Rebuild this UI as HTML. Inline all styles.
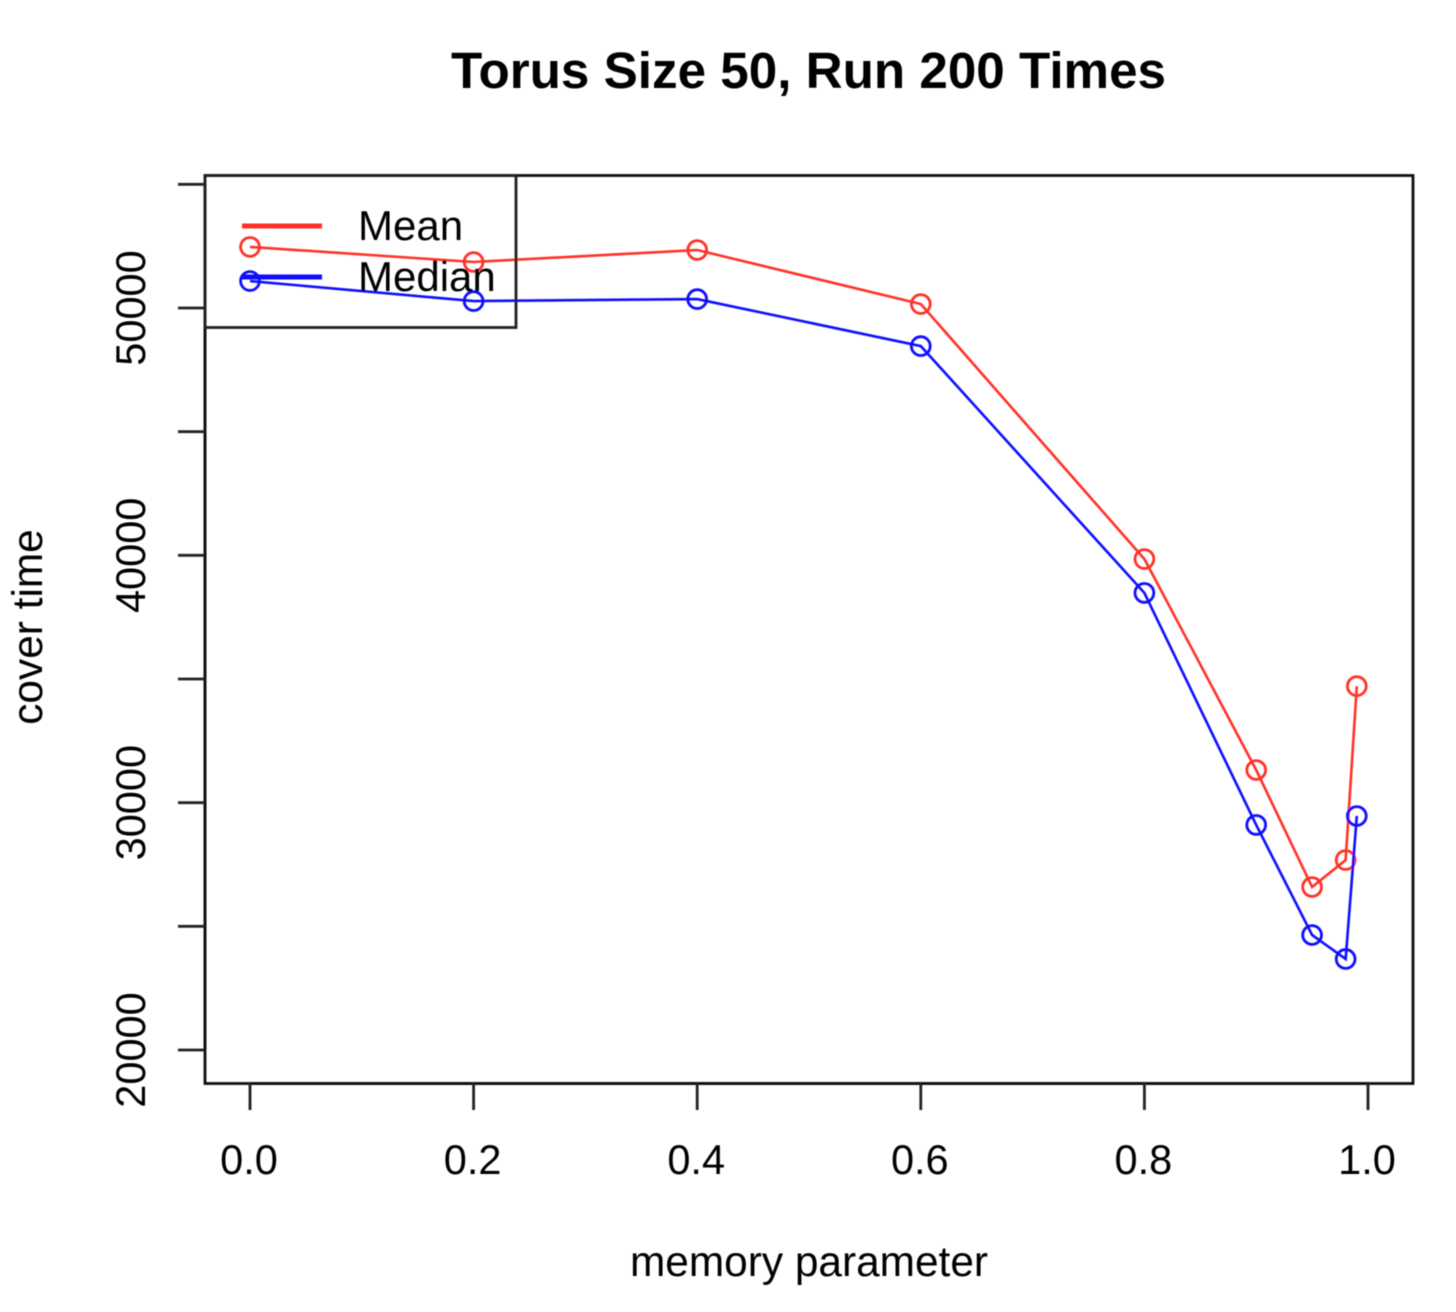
<!DOCTYPE html>
<html lang="en">
<head>
<meta charset="utf-8">
<title>Torus Size 50, Run 200 Times</title>
<style>
html,body{margin:0;padding:0;background:#fff;}
#chart{display:block;width:1456px;height:1312px;}
text{font-family:"Liberation Sans",Arial,sans-serif;fill:#000;}
</style>
</head>
<body>
<svg id="chart" xmlns="http://www.w3.org/2000/svg" width="1456" height="1312" viewBox="0 0 1456 1312">
  <defs>
    <filter id="soft" x="-5%" y="-5%" width="110%" height="110%"><feGaussianBlur stdDeviation="0.5"/></filter>
  </defs>
  <g id="root" filter="url(#soft)">
    <text x="808.500" y="88" text-anchor="middle" font-size="51.200" font-weight="bold">Torus Size 50, Run 200 Times</text>
    <text x="809" y="1276" text-anchor="middle" font-size="42.400">memory parameter</text>
    <text transform="translate(42,627) rotate(-90)" text-anchor="middle" font-size="42.400">cover time</text>
    <rect x="205" y="175.500" width="1208" height="908" fill="none" stroke="#111" stroke-width="2.800"/>
    <g id="axes"></g>
    <g id="series"></g>
    <g>
      <rect x="205" y="175.500" width="311" height="152" fill="none" stroke="#222" stroke-width="2.800"/>
      <line x1="242" x2="322" y1="226" y2="226" stroke="#ff3228" stroke-width="5"/>
      <text x="358" y="240" font-size="42">Mean</text>
      <line x1="242" x2="322" y1="277" y2="277" stroke="#1010ff" stroke-width="5"/>
      <text x="358" y="291" font-size="42">Median</text>
    </g>
  </g>
</svg>
<script>
const memoryParameter = [0, 0.2, 0.4, 0.6, 0.8, 0.9, 0.95, 0.98, 0.99];
const meanCoverTime = [52470, 51860, 52345, 50160, 39850, 31320, 26590, 27680, 34710];
const medianCoverTime = [51090, 50280, 50360, 48460, 38480, 29100, 24650, 23680, 29460];
const xTickValues = [0, 0.2, 0.4, 0.6, 0.8, 1];
const xTickLabels = ['0.0', '0.2', '0.4', '0.6', '0.8', '1.0'];
const yTickValues = [20000, 25000, 30000, 35000, 40000, 45000, 50000, 55000];
const yLabelValues = [20000, 30000, 40000, 50000];

const NS = 'http://www.w3.org/2000/svg';
function xScale(v) { return 250 + v * 1118; }
function yScale(v) { return 1050 - (v - 20000) * (742 / 30000); }

const axes = document.getElementById('axes');
const seriesLayer = document.getElementById('series');

const xAxisLine = document.createElementNS(NS, 'line');
xAxisLine.setAttribute('x1', xScale(xTickValues[0]));
xAxisLine.setAttribute('x2', xScale(xTickValues[xTickValues.length - 1]));
xAxisLine.setAttribute('y1', 1083.500);
xAxisLine.setAttribute('y2', 1083.500);
xAxisLine.setAttribute('stroke', '#111');
xAxisLine.setAttribute('stroke-width', '2.800');


axes.appendChild(xAxisLine);

const yAxisLine = document.createElementNS(NS, 'line');
yAxisLine.setAttribute('x1', 205);
yAxisLine.setAttribute('x2', 205);
yAxisLine.setAttribute('y1', yScale(yTickValues[0]));
yAxisLine.setAttribute('y2', yScale(yTickValues[yTickValues.length - 1]));
yAxisLine.setAttribute('stroke', '#111');
yAxisLine.setAttribute('stroke-width', '2.800');


axes.appendChild(yAxisLine);

xTickValues.forEach(function (v, i) {
  const t = document.createElementNS(NS, 'line');
  t.setAttribute('x1', xScale(v));
  t.setAttribute('x2', xScale(v));
  t.setAttribute('y1', 1083);
  t.setAttribute('y2', 1110);
  t.setAttribute('stroke', '#222');
  t.setAttribute('stroke-width', '2.800');
  
  
  axes.appendChild(t);
  const l = document.createElementNS(NS, 'text');
  l.setAttribute('x', xScale(v) - 1);
  l.setAttribute('y', 1174);
  l.setAttribute('text-anchor', 'middle');
  l.setAttribute('font-size', '41.500');
  l.textContent = xTickLabels[i];
  
  
  axes.appendChild(l);
});

yTickValues.forEach(function (v) {
  const t = document.createElementNS(NS, 'line');
  t.setAttribute('x1', 178);
  t.setAttribute('x2', 205);
  t.setAttribute('y1', yScale(v));
  t.setAttribute('y2', yScale(v));
  t.setAttribute('stroke', '#222');
  t.setAttribute('stroke-width', '2.800');
  
  
  axes.appendChild(t);
});

yLabelValues.forEach(function (v) {
  const l = document.createElementNS(NS, 'text');
  l.setAttribute('transform', 'translate(145,' + yScale(v) + ') rotate(-90)');
  l.setAttribute('text-anchor', 'middle');
  l.setAttribute('font-size', '41.500');
  l.textContent = String(v);
  
  
  axes.appendChild(l);
});

function drawSeries(values, color, name) {
  const g = document.createElementNS(NS, 'g');
  
  
  const line = document.createElementNS(NS, 'polyline');
  line.setAttribute('points', values.map(function (v, i) {
    return xScale(memoryParameter[i]) + ',' + yScale(v);
  }).join(' '));
  line.setAttribute('fill', 'none');
  line.setAttribute('stroke', color);
  line.setAttribute('stroke-width', '2.600');
  
  
  g.appendChild(line);
  values.forEach(function (v, i) {
    const c = document.createElementNS(NS, 'circle');
    c.setAttribute('cx', xScale(memoryParameter[i]));
    c.setAttribute('cy', yScale(v));
    c.setAttribute('r', '9.400');
    c.setAttribute('fill', 'none');
    c.setAttribute('stroke', color);
    c.setAttribute('stroke-width', '2.800');
    
    
    g.appendChild(c);
  });
  seriesLayer.appendChild(g);
}

drawSeries(meanCoverTime, '#ff3228', 'mean');
drawSeries(medianCoverTime, '#1010ff', 'median');
</script>
</body>
</html>
